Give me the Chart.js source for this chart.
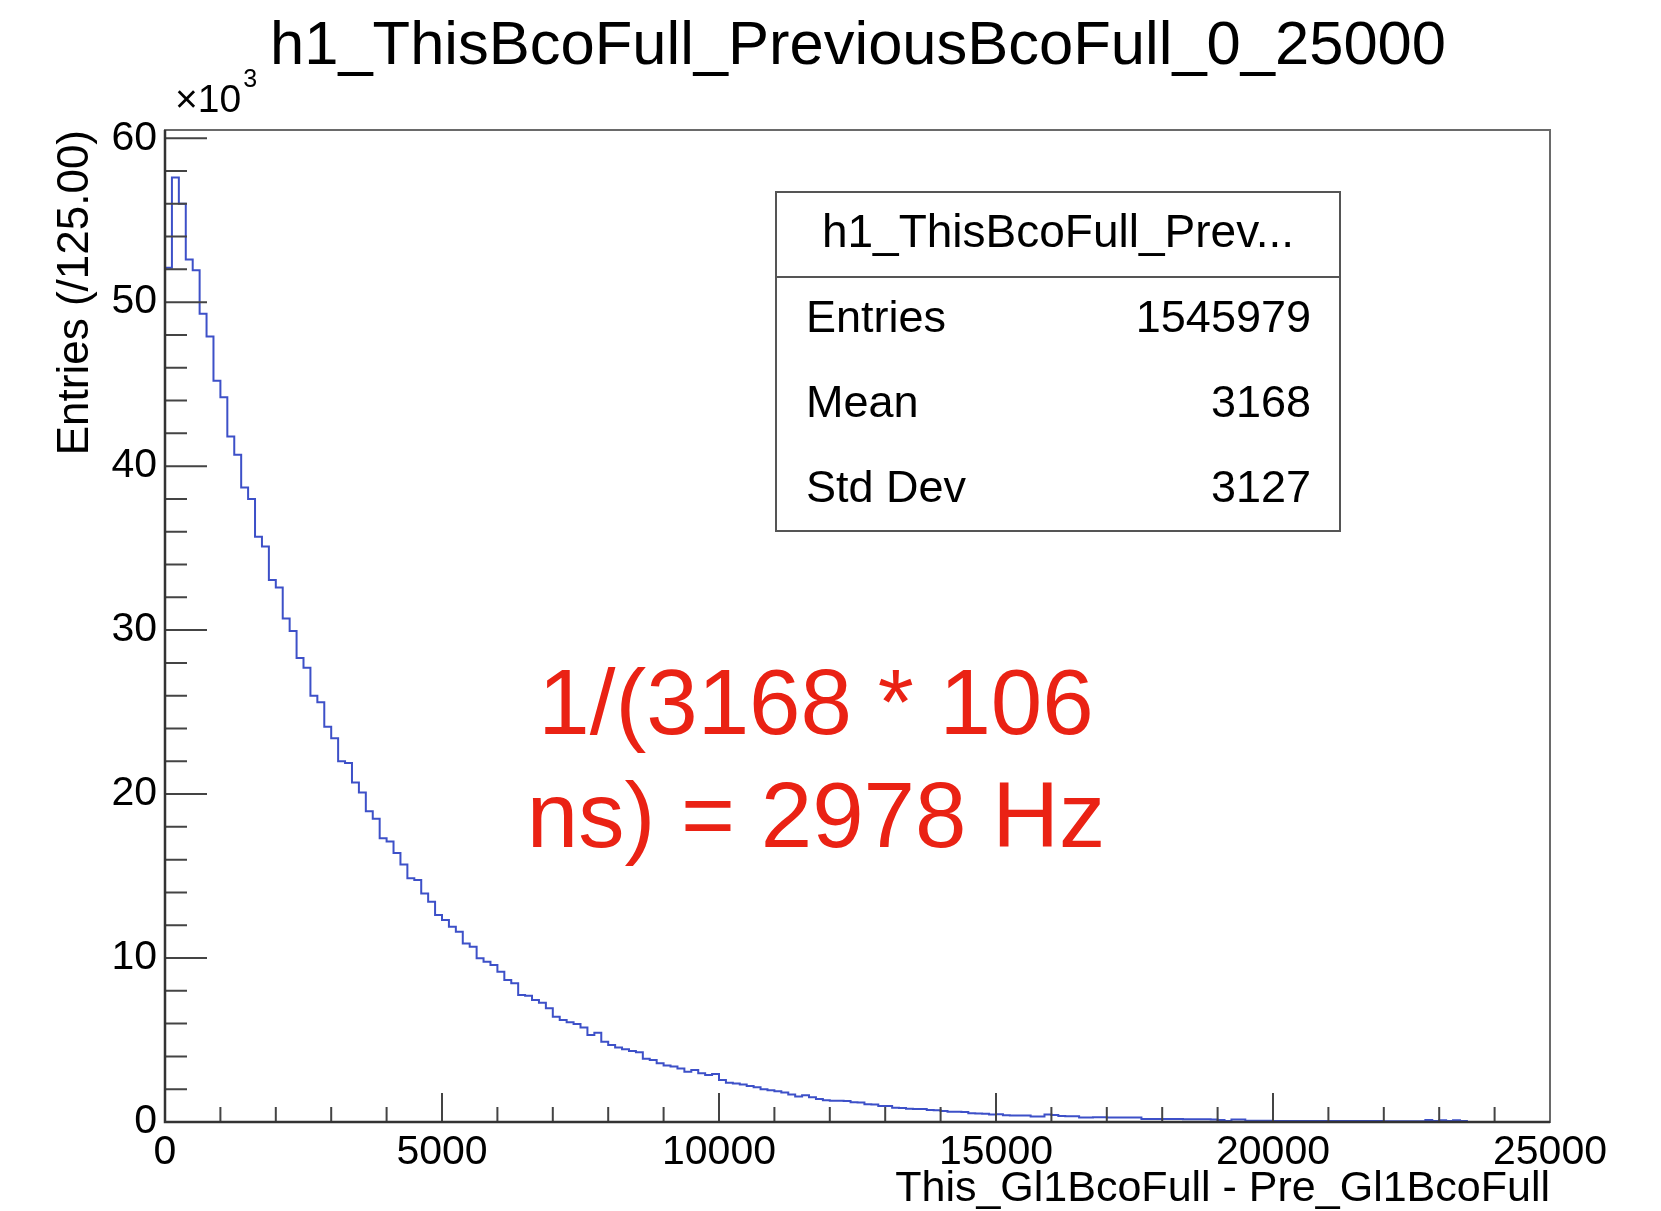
<!DOCTYPE html>
<html>
<head>
<meta charset="utf-8">
<title>h1_ThisBcoFull_PreviousBcoFull_0_25000</title>
<script src="https://cdn.jsdelivr.net/npm/chart.js@4.4.1/dist/chart.umd.min.js"></script>
<style>
  html, body { margin: 0; padding: 0; background: #fff; }
  canvas { display: block; }
</style>
</head>
<body>
<canvas id="hist" width="1661" height="1211"></canvas>
<script>
// histogram definition
const histTitle = "h1_ThisBcoFull_PreviousBcoFull_0_25000";
const xTitle = "This_Gl1BcoFull - Pre_Gl1BcoFull";
const yTitle = "Entries (/125.00)";
const binWidth = 125;
const xRange = [0, 25000];
const yRange = [0, 60500];
const xMajorTicks = [0, 5000, 10000, 15000, 20000, 25000];
const yMajorTicks = [0, 10000, 20000, 30000, 40000, 50000, 60000];
const xMinorDiv = 5;
const yMinorDiv = 5;

// bin contents, 200 bins of width 125
const binContent = [
  52100, 57600, 56000, 52600, 51950, 49300, 47900, 45200, 44200, 41800,
  40700, 38700, 38000, 35700, 35100, 33050, 32600, 30700, 29950, 28300,
  27700, 26000, 25600, 24100, 23400, 22000, 21900, 20700, 20100, 18950,
  18500, 17300, 17100, 16400, 15700, 14860, 14760, 13940, 13430, 12620,
  12320, 11910, 11610, 10890, 10690, 9980, 9780, 9570, 9170, 8660,
  8460, 7740, 7700, 7440, 7280, 6930, 6420, 6220, 6080, 5980,
  5770, 5300, 5450, 4900, 4700, 4550, 4430, 4330, 4250, 3850,
  3780, 3580, 3450, 3380, 3270, 3070, 3170, 2970, 2870, 2920,
  2560, 2400, 2350, 2280, 2200, 2120, 2000, 1930, 1870, 1800,
  1680, 1550, 1630, 1510, 1400, 1320, 1300, 1290, 1280, 1200,
  1190, 1080, 1070, 980, 970, 870, 860, 810, 800, 790,
  730, 720, 670, 630, 620, 610, 530, 520, 510, 450,
  480, 410, 400, 400, 390, 330, 330, 450, 420, 360,
  350, 350, 280, 280, 290, 290, 280, 280, 280, 270,
  270, 190, 190, 180, 180, 180, 180, 170, 170, 170,
  170, 160, 120, 60, 160, 160, 70, 70, 70, 70,
  60, 60, 60, 60, 60, 60, 60, 60, 60, 60,
  60, 60, 60, 60, 60, 60, 50, 50, 50, 50,
  50, 50, 120, 60, 100, 60, 100, 60, 0, 0,
  0, 0, 0, 0, 0, 0, 0, 0, 0, 0
];

// stats box
const statsName = "h1_ThisBcoFull_Prev...";
const statsLabels = ["Entries", "Mean", "Std Dev"];
const statsValues = ["1545979", "3168", "3127"];

// annotation
const noteLines = ["1/(3168 * 106", "ns) = 2978 Hz"];

const FONT = "'Liberation Sans', Arial, Helvetica, sans-serif";

// points at the low edge of every bin, plus the upper edge of the last bin
const points = binContent.map((v, i) => ({ x: xRange[0] + i * binWidth, y: v }));
points.push({ x: xRange[1], y: binContent[binContent.length - 1] });

function withMinors(majors, div) {
  const out = [];
  for (let i = 0; i < majors.length; i++) {
    out.push({ value: majors[i], major: true });
    if (i < majors.length - 1) {
      const step = (majors[i + 1] - majors[i]) / div;
      for (let k = 1; k < div; k++) out.push({ value: majors[i] + k * step, major: false });
    }
  }
  return out;
}

const rootDecor = {
  id: 'rootDecor',
  afterDatasetsDraw(chart) {
    const { ctx, chartArea: a, scales: { x, y } } = chart;
    ctx.save();

    // tick marks point into the frame
    ctx.strokeStyle = '#444';
    ctx.lineWidth = 2;
    ctx.beginPath();
    x.ticks.forEach(t => {
      const px = x.getPixelForValue(t.value);
      const len = t.major ? 29 : 15;
      ctx.moveTo(px, a.bottom);
      ctx.lineTo(px, a.bottom - len);
    });
    y.ticks.forEach(t => {
      const py = y.getPixelForValue(t.value);
      const len = t.major ? 42 : 22;
      ctx.moveTo(a.left, py);
      ctx.lineTo(a.left + len, py);
    });
    ctx.stroke();

    // frame
    ctx.strokeStyle = '#6a6a6a';
    ctx.lineWidth = 2;
    ctx.strokeRect(a.left, a.top, a.right - a.left, a.bottom - a.top);

    // axis lines
    ctx.strokeStyle = '#333';
    ctx.lineWidth = 2.5;
    ctx.beginPath();
    ctx.moveTo(a.left, a.top);
    ctx.lineTo(a.left, a.bottom);
    ctx.lineTo(a.right, a.bottom);
    ctx.stroke();

    // title
    ctx.fillStyle = '#000';
    ctx.textAlign = 'center';
    ctx.textBaseline = 'alphabetic';
    ctx.font = `61.5px ${FONT}`;
    ctx.fillText(histTitle, 858, 64);

    // exponent of the y axis
    ctx.textAlign = 'left';
    ctx.font = `39px ${FONT}`;
    ctx.fillText('\u00d710', 175, 112);
    const w = ctx.measureText('\u00d710').width;
    ctx.font = `25px ${FONT}`;
    ctx.fillText('3', 175 + w + 2, 87);

    // stats box
    const bx = 776, by = 192, bw = 564, bh = 339;
    ctx.fillStyle = '#fff';
    ctx.fillRect(bx, by, bw, bh);
    ctx.strokeStyle = '#555';
    ctx.lineWidth = 2;
    ctx.strokeRect(bx, by, bw, bh);
    ctx.beginPath();
    ctx.moveTo(bx, 277);
    ctx.lineTo(bx + bw, 277);
    ctx.stroke();

    ctx.fillStyle = '#000';
    ctx.font = `46px ${FONT}`;
    ctx.textAlign = 'center';
    ctx.fillText(statsName, 1058, 247);
    ctx.font = `45px ${FONT}`;
    const rowBase = [332, 417, 502];
    statsLabels.forEach((lab, i) => {
      ctx.textAlign = 'left';
      ctx.fillText(lab, 806, rowBase[i]);
      ctx.textAlign = 'right';
      ctx.fillText(statsValues[i], 1311, rowBase[i]);
    });

    // red note
    ctx.fillStyle = '#ea2214';
    ctx.font = `92.5px ${FONT}`;
    ctx.textAlign = 'center';
    ctx.textBaseline = 'middle';
    ctx.fillText(noteLines[0], 816, 708);
    ctx.fillText(noteLines[1], 816, 821);

    ctx.restore();
  }
};

new Chart(document.getElementById('hist').getContext('2d'), {
  type: 'line',
  data: {
    datasets: [{
      data: points,
      stepped: true,
      borderColor: '#3d50c8',
      borderWidth: 2,
      pointRadius: 0,
      fill: false,
      tension: 0
    }]
  },
  options: {
    responsive: false,
    animation: false,
    layout: { padding: { top: 130, right: 111, left: 0, bottom: 0 } },
    plugins: { legend: { display: false }, tooltip: { enabled: false } },
    scales: {
      x: {
        type: 'linear',
        min: xRange[0],
        max: xRange[1],
        afterBuildTicks: s => { s.ticks = withMinors(xMajorTicks, xMinorDiv); },
        afterFit: s => { s.height = 89; },
        grid: { display: false },
        border: { display: false },
        ticks: {
          autoSkip: false,
          maxRotation: 0,
          padding: 0,
          color: '#000',
          font: { family: FONT, size: 41, lineHeight: 1.1 },
          callback: v => (xMajorTicks.includes(v) ? String(v) : '')
        },
        title: {
          display: true,
          text: xTitle,
          align: 'end',
          color: '#000',
          font: { family: FONT, size: 43, lineHeight: 1 },
          padding: { top: 0, bottom: 0 }
        }
      },
      y: {
        type: 'linear',
        min: yRange[0],
        max: yRange[1],
        afterBuildTicks: s => { s.ticks = withMinors(yMajorTicks, yMinorDiv); },
        afterFit: s => { s.width = 165; },
        grid: { display: false },
        border: { display: false },
        ticks: {
          autoSkip: false,
          padding: 0,
          color: '#000',
          font: { family: FONT, size: 41 },
          callback: v => (yMajorTicks.includes(v) ? String(v / 1000) : '')
        },
        title: {
          display: true,
          text: yTitle,
          align: 'end',
          color: '#000',
          font: { family: FONT, size: 44, lineHeight: 1 },
          padding: { top: 54, bottom: 0 }
        }
      }
    }
  },
  plugins: [rootDecor]
});
</script>
</body>
</html>
